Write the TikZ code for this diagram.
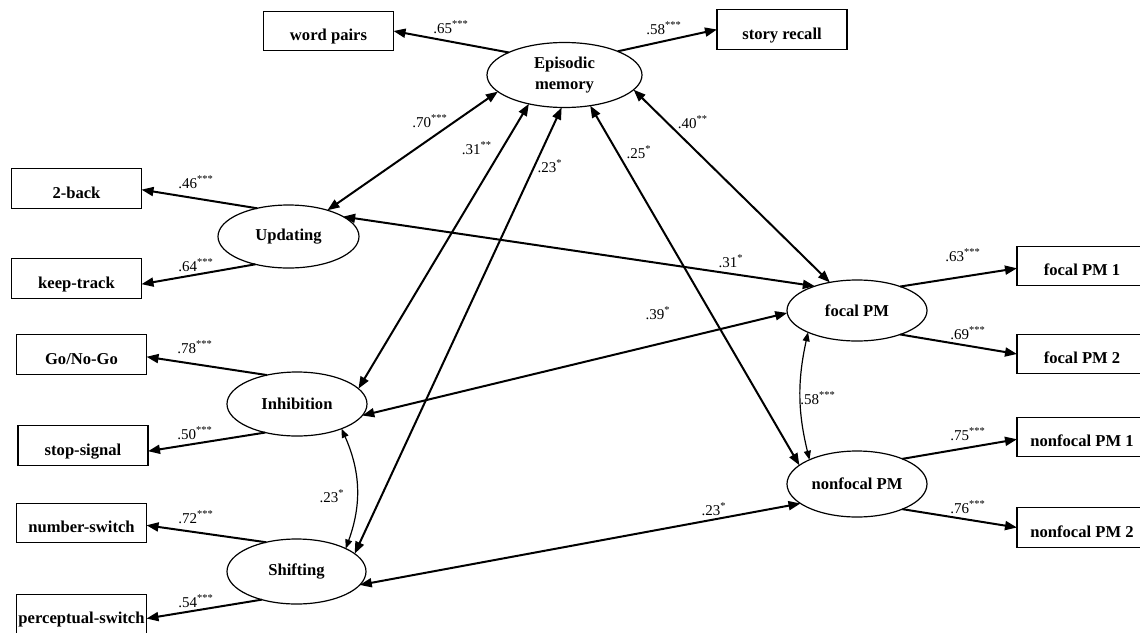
\documentclass[tikz,border=0pt]{standalone}
\usepackage{fontspec}
\setmainfont{Liberation Serif}
\usetikzlibrary{arrows.meta,shapes.geometric}
\begin{document}
\begin{tikzpicture}[x=0.5pt,y=-0.5pt,
  box/.style={draw, line width=0.6pt, rectangle, minimum width=65pt, minimum height=19.75pt, inner sep=0pt, outer sep=0pt, text height=9.5pt, text depth=0pt, font=\fontsize{8.3}{10}\selectfont\bfseries},
  lat/.style={draw, line width=0.6pt, ellipse, inner sep=0pt, outer sep=0pt, font=\fontsize{8.3}{11.5}\selectfont\bfseries, align=center},
  conn/.style={line width=1pt, -{Triangle[length=6pt,width=4.5pt]}},
  both/.style={line width=1pt, {Triangle[length=6pt,width=4.5pt]}-{Triangle[length=6pt,width=4.5pt]}},
  corr/.style={line width=0.6pt, {Triangle[length=4.5pt,width=3.5pt]}-{Triangle[length=4.5pt,width=3.5pt]}},
  lab/.style={font=\fontsize{7.5}{9}\selectfont, inner sep=0pt}
]
\fill[white] (0,0) rectangle (1140,632);
\useasboundingbox (0,0) rectangle (1140,632);

% indicator boxes
\node[box] (wp) at (328.5,31) {word pairs};
\node[box] (sr) at (782,29.5) {story recall};
\node[box] (tb) at (76.5,188.5) {2-back};
\node[box] (kt) at (76.5,278.5) {keep-track};
\node[box] (gng) at (81.5,354.5) {Go/No-Go};
\node[box] (ss) at (83,445.5) {stop-signal};
\node[box] (ns) at (81.5,523) {number-switch};
\node[box] (ps) at (81.5,614) {perceptual-switch};
\node[box] (fp1) at (1082,266) {focal PM 1};
\node[box] (fp2) at (1082,354) {focal PM 2};
\node[box] (nfp1) at (1082,437) {nonfocal PM 1};
\node[box] (nfp2) at (1082,527.5) {nonfocal PM 2};

% latent variables
\node[lat, minimum width=77.5pt, minimum height=32.5pt] (epi) at (564.5,75) {\raisebox{-1.5pt}{\shortstack{Episodic\\[1.5pt]memory}}};
\node[lat, minimum width=70.5pt, minimum height=31.5pt] (upd) at (288.5,236.5) {Updating};
\node[lat, minimum width=70pt, minimum height=32pt] (inh) at (297,404) {Inhibition};
\node[lat, minimum width=69.5pt, minimum height=32.5pt] (shi) at (296.5,571.5) {Shifting};
\node[lat, minimum width=70pt, minimum height=30.5pt] (fpm) at (857,310.5) {focal PM};
\node[lat, minimum width=70pt, minimum height=33pt] (nfpm) at (857,484) {nonfocal PM};

% loadings
\draw[conn] (epi.158.5) -- (wp.east);
\draw[conn] (epi.24.2) -- (sr.west);
\draw[conn] (upd.138.6) -- (tb.-1.5);
\draw[conn] (upd.220.4) -- (kt.-5);
\draw[conn] (inh.136.8) -- (gng.-2);
\draw[conn] (inh.222.2) -- (ss.-5.5);
\draw[conn] (shi.136) -- (ns.-2);
\draw[conn] (shi.219.6) -- (ps.-4.4);
\draw[conn] (fpm.29) -- (fp1.182);
\draw[conn] (fpm.331) -- (fp2.west);
\draw[conn] (nfpm.29.5) -- (nfp1.182);
\draw[conn] (nfpm.331.5) -- (nfp2.west);

% correlations
\draw[both] (epi.194.1) -- (upd.34.8);
\draw[both] (epi.219) -- (inh.14.7);
\draw[both] (epi.265.7) -- (shi.17.6);
\draw[both] (epi.310.8) -- (nfpm.162.1);
\draw[both] (epi.348.2) -- (fpm.134.5);
\draw[both] (upd.20.2) -- (fpm.150.7);
\draw[both] (inh.350.5) -- (fpm.182.5);
\draw[both] (shi.348.5) -- (nfpm.199.3);
\draw[corr] (inh.331.2) to[bend left=22] (shi.25.4);
\draw[corr] (fpm.204.4) to[bend right=13] (nfpm.153.9);

% labels
\node[lab] (l1) at (451,27) {.65\textsuperscript{***}};
\node[lab] (l2) at (664,28) {.58\textsuperscript{***}};
\node[lab] (l3) at (430,121) {.70\textsuperscript{***}};
\node[lab] (l4) at (477,148) {.31\textsuperscript{**}};
\node[lab] (l5) at (550,166) {.23\textsuperscript{*}};
\node[lab] (l6) at (639,152) {.25\textsuperscript{*}};
\node[lab] (l7) at (693,122) {.40\textsuperscript{**}};
\node[lab] (l8) at (731,261) {.31\textsuperscript{*}};
\node[lab] (l9) at (196,182) {.46\textsuperscript{***}};
\node[lab] (l10) at (196,265) {.64\textsuperscript{***}};
\node[lab] (l11) at (195,347) {.78\textsuperscript{***}};
\node[lab] (l12) at (195,433) {.50\textsuperscript{***}};
\node[lab] (l13) at (196,517) {.72\textsuperscript{***}};
\node[lab] (l14) at (196,601) {.54\textsuperscript{***}};
\node[lab] (l15) at (963,255) {.63\textsuperscript{***}};
\node[lab] (l16) at (968,333) {.69\textsuperscript{***}};
\node[lab] (l17) at (968,434) {.75\textsuperscript{***}};
\node[lab] (l18) at (968,507) {.76\textsuperscript{***}};
\node[lab] (l19) at (658,313) {.39\textsuperscript{*}};
\node[lab] (l20) at (714,509) {.23\textsuperscript{*}};
\node[lab] (l21) at (818,398) {.58\textsuperscript{***}};
\node[lab] (l22) at (332,496) {.23\textsuperscript{*}};
\end{tikzpicture}
\end{document}
